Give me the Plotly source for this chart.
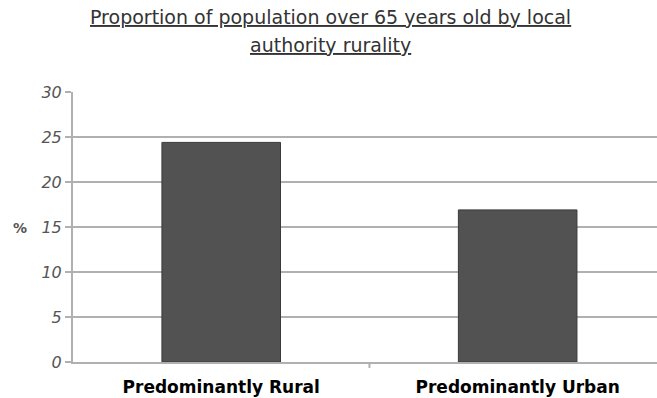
import plotly.graph_objects as go

categories = ["Predominantly Rural", "Predominantly Urban"]
values = [24.4, 16.9]
y_ticks = [0, 5, 10, 15, 20, 25, 30]
title_lines = ["Proportion of population over 65 years old by local", "authority rurality"]

fig = go.Figure()
fig.add_trace(go.Bar(
    x=categories, y=values, width=0.4,
    marker=dict(color="#525252", line=dict(color="#3a3a3a", width=1)),
))

fig.update_layout(
    width=657, height=398,
    margin=dict(l=73, r=0, t=92, b=36),
    paper_bgcolor="white", plot_bgcolor="white",
    showlegend=False,
    font=dict(family="DejaVu Sans"),
)
for i, (line, yp) in enumerate(zip(title_lines, [17, 45])):
    fig.add_annotation(
        text="<u>" + line + "</u>", xref="paper", yref="paper",
        x=(330 - 73) / 584, y=(362 - yp) / 270, xanchor="center", yanchor="middle",
        showarrow=False,
        font=dict(family="DejaVu Sans", size=19, color="#333333"),
    )
fig.add_annotation(
    text="%", xref="paper", yref="paper", x=(20 - 73) / 584, y=(362 - 228) / 270,
    xanchor="center", yanchor="middle", showarrow=False,
    font=dict(family="DejaVu Sans", size=14, color="#555555", weight="bold"),
)
fig.update_yaxes(
    range=[0, 30], tickvals=y_ticks, ticktext=[str(v) for v in y_ticks],
    showgrid=True, gridcolor="#b0b0b0", gridwidth=2,
    showline=True, linecolor="#b0b0b0", linewidth=2,
    ticks="outside", ticklen=6, tickcolor="#b0b0b0", tickwidth=2,
    tickfont=dict(family="DejaVu Sans", size=16, color="#555555", style="italic"),
    zeroline=False,
)
fig.update_xaxes(
    range=[-0.5, 1.47],
    tickfont=dict(family="DejaVu Sans", size=17, color="#000000", weight="bold"),
    showline=True, linecolor="#b0b0b0", linewidth=2,
    ticks="", ticklabelstandoff=9,
)
fig.add_shape(type="line", xref="x", yref="paper", x0=0.5, x1=0.5, y0=0, y1=-0.022,
              line=dict(color="#b0b0b0", width=2))
fig.write_html("out.html")
